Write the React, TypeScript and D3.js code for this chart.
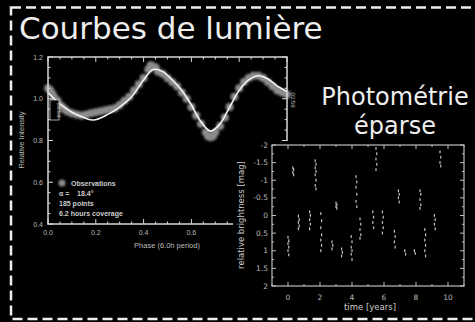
import React, { useEffect, useRef } from 'react';
import * as d3 from 'd3';

const W = 475, H = 322;

// Light curve: fitted model
const fitPhase = [0, 0.05, 0.1, 0.15, 0.19, 0.25, 0.3, 0.35, 0.4, 0.44, 0.48, 0.52, 0.56, 0.6, 0.64, 0.68, 0.72, 0.76, 0.8, 0.84, 0.88, 0.92, 0.96, 1.0];
const fitValue = [1.03, 0.975, 0.935, 0.91, 0.898, 0.925, 0.96, 1.01, 1.09, 1.14, 1.13, 1.09, 1.04, 0.97, 0.89, 0.845, 0.88, 0.96, 1.04, 1.09, 1.11, 1.095, 1.06, 1.035];

// Light curve: observations
const obsPhase = [0, 0.01, 0.02, 0.03, 0.04, 0.05, 0.06, 0.07, 0.08, 0.1, 0.12, 0.14, 0.16, 0.18, 0.2, 0.22, 0.24, 0.26, 0.28, 0.3, 0.32, 0.34, 0.36, 0.38, 0.4, 0.42, 0.43, 0.44, 0.45, 0.46, 0.48, 0.5, 0.52, 0.54, 0.56, 0.58, 0.6, 0.62, 0.64, 0.66, 0.67, 0.68, 0.69, 0.7, 0.72, 0.74, 0.76, 0.78, 0.8, 0.82, 0.84, 0.86, 0.88, 0.9, 0.92, 0.94, 0.96, 0.98, 1.0];
const obsValue = [1.05, 1.04, 1.02, 1.0, 0.99, 0.97, 0.96, 0.95, 0.94, 0.93, 0.925, 0.92, 0.925, 0.93, 0.935, 0.94, 0.945, 0.95, 0.955, 0.97, 0.99, 1.01, 1.04, 1.07, 1.1, 1.14, 1.16, 1.155, 1.15, 1.13, 1.12, 1.1, 1.08, 1.06, 1.03, 1.0, 0.96, 0.92, 0.88, 0.84, 0.82, 0.815, 0.82, 0.84, 0.87, 0.91, 0.96, 1.01, 1.05, 1.08, 1.1, 1.11, 1.11, 1.1, 1.08, 1.06, 1.04, 1.03, 1.02];

const lcXTicks = [0, 0.2, 0.4, 0.6, 0.8, 1.0];
const lcYTicks = [0.4, 0.6, 0.8, 1.0, 1.2];
const legendLines = ['α =    18.4°', '185 points', '6.2 hours coverage'];

// Sparse photometry: one list of magnitudes per observing season
const seasonTime = [0.0, 0.3, 0.65, 1.35, 1.7, 2.05, 2.75, 3.0, 3.35, 3.95, 4.25, 4.5, 5.3, 5.5, 5.9, 6.65, 6.9, 7.3, 7.9, 8.25, 8.55, 9.15, 9.5];
const seasonMags = [
  [0.62, 0.72, 0.8, 0.9, 1.0, 1.12],
  [-1.35, -1.3, -1.22, -1.15],
  [0.02, 0.12, 0.2, 0.3, 0.38],
  [-0.1, 0.0, 0.12, 0.25, 0.38],
  [-1.55, -1.45, -1.35, -1.25, -1.15, -1.0, -0.85, -0.75],
  [-0.05, 0.15, 0.35, 0.55, 0.7, 0.85, 1.0],
  [0.75, 0.85, 0.95],
  [-0.35, -0.3, -0.25, -0.2],
  [0.95, 1.05, 1.15],
  [0.6, 0.75, 0.9, 1.0, 1.1, 1.25],
  [-1.1, -0.95, -0.8, -0.6, -0.4, -0.25],
  [0.1, 0.25, 0.4, 0.55, 0.65],
  [-0.1, 0.05, 0.2, 0.35],
  [-1.9, -1.75, -1.6, -1.45, -1.3],
  [-0.1, 0.05, 0.2, 0.35, 0.5],
  [0.45, 0.6, 0.75, 0.9],
  [-0.7, -0.6, -0.5, -0.38],
  [1.0, 1.1],
  [1.0, 1.08],
  [-0.7, -0.6, -0.45, -0.3, -0.2],
  [0.4, 0.55, 0.7, 0.85, 1.0, 1.15],
  [0.0, 0.12, 0.25, 0.38],
  [-1.8, -1.65, -1.5, -1.4],
];
const phXTicks = [0, 2, 4, 6, 8, 10];
const phYTicks = [-2, -1.5, -1, -0.5, 0, 0.5, 1, 1.5, 2];

export default function App() {
  const ref = useRef<SVGSVGElement>(null);

  useEffect(() => {
    const svg = d3.select(ref.current);
    svg.selectAll('*').remove();
    const defs = svg.append('defs');
    defs.append('filter').attr('id', 'soft').attr('x', '-20%').attr('y', '-20%').attr('width', '140%').attr('height', '140%')
      .append('feGaussianBlur').attr('stdDeviation', 1.1);
    svg.append('rect').attr('width', W).attr('height', H).attr('fill', '#000');

    svg.append('text').attr('x', 19).attr('y', 39)
      .attr('font-family', 'DejaVu Sans').attr('font-size', 31).attr('fill', '#eee')
      .text('Courbes de lumière');

    // ---------- Light curve panel ----------
    const x = d3.scaleLinear().domain([0, 1]).range([48, 287]);
    const y = d3.scaleLinear().domain([0.4, 1.2]).range([224, 57]);
    const lc = svg.append('g');
    const axisCol = '#d8d8d8';
    const tickFont = 'Liberation Sans';

    lc.append('g').attr('filter', 'url(#soft)').selectAll('circle').data(obsPhase).join('circle')
      .attr('cx', (d) => x(d)).attr('cy', (_d, i) => y(obsValue[i]))
      .attr('r', 4).attr('fill', '#8c8c8c');
    const line = d3.line<number>().x((d) => x(d)).y((_d, i) => y(fitValue[i])).curve(d3.curveCatmullRom);
    lc.append('path').attr('d', line(fitPhase)).attr('fill', 'none').attr('stroke', '#f4f4f4').attr('stroke-width', 1.6);

    lc.append('rect').attr('x', 48).attr('y', 57).attr('width', 239).attr('height', 167)
      .attr('fill', 'none').attr('stroke', axisCol).attr('stroke-width', 1.5);

    const minorX = d3.range(0, 1.001, 0.05);
    const minorY = d3.range(0.4, 1.2001, 0.05);
    const tk = lc.append('g').attr('stroke', axisCol).attr('stroke-width', 1);
    minorX.forEach((v, i) => {
      const len = i % 4 === 0 ? 5 : 2.5;
      tk.append('line').attr('x1', x(v)).attr('x2', x(v)).attr('y1', 224).attr('y2', 224 - len);
      tk.append('line').attr('x1', x(v)).attr('x2', x(v)).attr('y1', 57).attr('y2', 57 + len);
    });
    minorY.forEach((v, i) => {
      const len = i % 4 === 0 ? 5 : 2.5;
      tk.append('line').attr('x1', 48).attr('x2', 48 + len).attr('y1', y(v)).attr('y2', y(v));
      tk.append('line').attr('x1', 287).attr('x2', 287 - len).attr('y1', y(v)).attr('y2', y(v));
    });
    lc.append('g').selectAll('text').data(lcXTicks).join('text')
      .attr('x', (d) => x(d)).attr('y', 235).attr('text-anchor', 'middle')
      .attr('font-family', tickFont).attr('font-size', 7).attr('fill', '#bbb')
      .text((d) => d.toFixed(1));
    lc.append('g').selectAll('text').data(lcYTicks).join('text')
      .attr('x', 43).attr('y', (d) => y(d) + 2.5).attr('text-anchor', 'end')
      .attr('font-family', tickFont).attr('font-size', 7).attr('fill', '#bbb')
      .text((d) => d.toFixed(1));
    lc.append('text').attr('transform', 'translate(24,140) rotate(-90)').attr('text-anchor', 'middle')
      .attr('font-family', tickFont).attr('font-size', 7.5).attr('fill', '#bbb').text('Relative Intensity');
    lc.append('text').attr('x', 167).attr('y', 248).attr('text-anchor', 'middle')
      .attr('font-family', tickFont).attr('font-size', 7.5).attr('fill', '#bbb').text('Phase (6.0h period)');

    // small time stamps
    lc.append('rect').attr('x', 50).attr('y', 100).attr('width', 9).attr('height', 20).attr('fill', '#000').attr('stroke', '#ccc').attr('stroke-width', 0.8);
    lc.append('text').attr('transform', 'translate(57,110) rotate(90)').attr('text-anchor', 'middle')
      .attr('font-family', tickFont).attr('font-size', 6).attr('fill', '#bbb').text('03:59');
    lc.append('text').attr('transform', 'translate(291,100) rotate(90)').attr('text-anchor', 'middle')
      .attr('font-family', tickFont).attr('font-size', 6).attr('fill', '#bbb').text('03:59');

    // legend
    lc.append('circle').attr('cx', 62).attr('cy', 183).attr('r', 3.5).attr('fill', '#8c8c8c').attr('filter', 'url(#soft)');
    lc.append('text').attr('x', 71).attr('y', 186).attr('font-family', tickFont).attr('font-size', 7).attr('font-weight', 'bold').attr('fill', '#ccc').text('Observations');
    lc.append('g').selectAll('text').data(legendLines).join('text')
      .attr('x', 59).attr('y', (_d, i) => 196 + i * 10)
      .attr('font-family', tickFont).attr('font-size', 7).attr('font-weight', 'bold').attr('fill', '#ccc')
      .style('white-space', 'pre')
      .text((d) => d);

    // ---------- Sparse photometry panel ----------
    svg.append('rect').attr('x', 233).attr('y', 141).attr('width', 242).attr('height', 181).attr('fill', '#000');
    svg.append('text').attr('x', 395).attr('y', 105).attr('text-anchor', 'middle')
      .attr('font-family', 'DejaVu Sans').attr('font-size', 24).attr('fill', '#eee').text('Photométrie');
    svg.append('text').attr('x', 395).attr('y', 134).attr('text-anchor', 'middle')
      .attr('font-family', 'DejaVu Sans').attr('font-size', 24).attr('fill', '#eee').text('éparse');

    const px = d3.scaleLinear().domain([-1, 11]).range([272, 464]);
    const py = d3.scaleLinear().domain([-2, 2]).range([145, 286]);
    const ph = svg.append('g');
    const pcol = '#bdbdbd';
    ph.append('rect').attr('x', 272).attr('y', 145).attr('width', 192).attr('height', 141)
      .attr('fill', 'none').attr('stroke', pcol).attr('stroke-width', 1.2);
    const ptk = ph.append('g').attr('stroke', pcol).attr('stroke-width', 1);
    d3.range(-1, 11.001, 1).forEach((v) => {
      const len = v % 2 === 0 ? 4 : 2;
      ptk.append('line').attr('x1', px(v)).attr('x2', px(v)).attr('y1', 286).attr('y2', 286 - len);
      ptk.append('line').attr('x1', px(v)).attr('x2', px(v)).attr('y1', 145).attr('y2', 145 + len);
    });
    d3.range(-2, 2.001, 0.25).forEach((v, i) => {
      const len = i % 2 === 0 ? 4 : 2;
      ptk.append('line').attr('x1', 272).attr('x2', 272 + len).attr('y1', py(v)).attr('y2', py(v));
      ptk.append('line').attr('x1', 464).attr('x2', 464 - len).attr('y1', py(v)).attr('y2', py(v));
    });
    ph.append('g').selectAll('text').data(phXTicks).join('text')
      .attr('x', (d) => px(d)).attr('y', 300).attr('text-anchor', 'middle')
      .attr('font-family', 'DejaVu Sans').attr('font-size', 7.5).attr('fill', '#bbb')
      .text((d) => String(d));
    ph.append('g').selectAll('text').data(phYTicks).join('text')
      .attr('x', 268).attr('y', (d) => py(d) + 2.5).attr('text-anchor', 'end')
      .attr('font-family', 'DejaVu Sans').attr('font-size', 7.5).attr('fill', '#bbb')
      .text((d) => String(d));
    ph.append('text').attr('x', 370).attr('y', 310).attr('text-anchor', 'middle')
      .attr('font-family', 'DejaVu Sans').attr('font-size', 8.5).attr('fill', '#ccc').text('time [years]');
    ph.append('text').attr('transform', 'translate(244,215) rotate(-90)').attr('text-anchor', 'middle')
      .attr('font-family', 'DejaVu Sans').attr('font-size', 8.5).attr('fill', '#ccc').text('relative brightness [mag]');

    const pts: { t: number; m: number; k: number }[] = [];
    seasonTime.forEach((t, i) => seasonMags[i].forEach((m, k) => pts.push({ t, m, k })));
    ph.append('g').selectAll('rect').data(pts).join('rect')
      .attr('x', (d) => px(d.t) - 0.6 + (d.k % 2) * 0.8).attr('y', (d) => py(d.m) - 1.5)
      .attr('width', 1.2).attr('height', 2.8).attr('fill', '#c4c4c4');

    // ---------- dashed frame ----------
    svg.append('rect').attr('x', 11).attr('y', 7.5).attr('width', 480).attr('height', 311.5)
      .attr('fill', 'none').attr('stroke', '#eee').attr('stroke-width', 2.5).attr('stroke-dasharray', '10,5');
  }, []);

  return (
    <svg ref={ref} width={W} height={H} style={{ position: 'absolute', left: 0, top: 0, display: 'block' }} />
  );
}
